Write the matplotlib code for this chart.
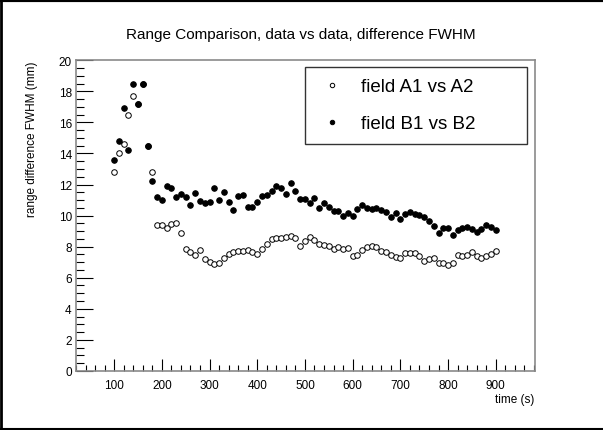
# -*- coding: utf-8 -*-
"""
Range comparison plot, data vs data, difference FWHM.
"""

import numpy as np
import matplotlib
matplotlib.use('Agg')
import matplotlib.pyplot as plt
from matplotlib.ticker import MultipleLocator
from matplotlib.lines import Line2D

# =============================================================================
# Data
# =============================================================================
time_s = list(range(100, 901, 10))

# field A1 vs A2 (open circles)
diff_a = [12.8, 14.05, 14.6, 16.5, 17.7, 17.2, 18.5, 14.5, 12.8, 9.38,
          9.4, 9.2, 9.45, 9.55, 8.85, 7.83, 7.67, 7.46, 7.76, 7.22,
          7.04, 6.88, 6.95, 7.25, 7.5, 7.66, 7.7, 7.7, 7.79, 7.67,
          7.52, 7.85, 8.17, 8.49, 8.55, 8.55, 8.6, 8.7, 8.55, 8.02,
          8.38, 8.64, 8.45, 8.17, 8.1, 8.02, 7.85, 7.95, 7.85, 7.89,
          7.42, 7.48, 7.8, 7.95, 8.02, 7.95, 7.74, 7.63, 7.48, 7.35,
          7.27, 7.59, 7.59, 7.59, 7.42, 7.05, 7.2, 7.27, 6.95, 6.95,
          6.82, 6.93, 7.45, 7.42, 7.46, 7.63, 7.42, 7.27, 7.42, 7.52,
          7.74]

# field B1 vs B2 (filled circles)
diff_b = [13.6, 14.8, 16.9, 14.2, 18.5, 17.2, 18.5, 14.5, 12.2, 11.2,
          11.0, 11.9, 11.77, 11.2, 11.38, 11.2, 10.7, 11.47, 10.95, 10.82,
          10.88, 11.75, 11.0, 11.53, 10.88, 10.36, 11.27, 11.3, 10.58, 10.52,
          10.85, 11.27, 11.32, 11.6, 11.88, 11.8, 11.38, 12.07, 11.55, 11.06,
          11.06, 10.8, 11.1, 10.46, 10.78, 10.57, 10.31, 10.31, 9.99, 10.14,
          9.95, 10.42, 10.68, 10.46, 10.42, 10.46, 10.37, 10.2, 9.88, 10.14,
          9.77, 10.1, 10.25, 10.1, 10.03, 9.88, 9.67, 9.35, 8.87, 9.2,
          9.2, 8.78, 9.1, 9.22, 9.24, 9.13, 8.92, 9.13, 9.39, 9.24,
          9.07]

labels = ['field A1 vs A2', 'field B1 vs B2']
title = 'Range Comparison, data vs data, difference FWHM'

# =============================================================================
# Figure
# =============================================================================
plt.rcParams['font.family'] = ['Liberation Sans', 'DejaVu Sans']

fig = plt.figure(figsize=(6.03, 4.31), dpi=100)
ax = fig.add_axes([0.126, 0.137, 0.761, 0.721])

ax.plot(time_s, diff_a, ls='none', marker='o', ms=4.0, mfc='white',
        mec='black', mew=0.7, zorder=3)
ax.plot(time_s, diff_b, ls='none', marker='o', ms=4.0, mfc='black',
        mec='black', mew=0.7, zorder=4)

# Axes, ROOT style
ax.set_xlim(20, 982)
ax.set_ylim(0, 20)
ax.xaxis.set_major_locator(MultipleLocator(100))
ax.xaxis.set_minor_locator(MultipleLocator(20))
ax.yaxis.set_major_locator(MultipleLocator(2))
ax.yaxis.set_minor_locator(MultipleLocator(0.5))
ax.set_xticks([t for t in range(100, 1000, 100)])
ax.tick_params(axis='both', which='both', direction='in', top=False,
               right=False, labelsize=8.5, color='black', width=0.8)
ax.tick_params(axis='x', which='major', length=9, pad=6)
ax.tick_params(axis='x', which='minor', length=4.5)
ax.tick_params(axis='y', which='major', length=12, pad=3)
ax.tick_params(axis='y', which='minor', length=6)
for side in ['top', 'bottom', 'left', 'right']:
    ax.spines[side].set_color('#8a8a8a')
    ax.spines[side].set_linewidth(1.2)

ax.set_xlabel('time (s)', fontsize=8.5, loc='right', labelpad=1)
ax.set_ylabel('range difference FWHM (mm)', fontsize=8.5, loc='top',
              labelpad=15)

fig.text(0.499, 0.918, title, ha='center', va='center', fontsize=11)

# Legend
handles = [
    Line2D([], [], ls='none', marker='o', ms=3.2, mfc='white', mec='black',
           mew=0.7),
    Line2D([], [], ls='none', marker='o', ms=3.2, mfc='black', mec='black',
           mew=0.7),
]
leg = ax.legend(handles, labels, loc='upper left', mode='expand',
                bbox_to_anchor=(0.506, 0.65, 0.368, 0.192),
                bbox_transform=fig.transFigure, fontsize=13.5,
                frameon=True, fancybox=False, borderpad=0.6,
                labelspacing=1.05, handlelength=1.65, handletextpad=0.74,
                borderaxespad=0)
leg.get_frame().set_edgecolor('black')
leg.get_frame().set_linewidth(1.0)

# Canvas border
fig.add_artist(Line2D([0, 1], [0.998, 0.998], transform=fig.transFigure,
                      color='black', lw=3))
fig.add_artist(Line2D([0.002, 0.002], [0, 1], transform=fig.transFigure,
                      color='black', lw=2))
fig.add_artist(Line2D([0, 1], [0.003, 0.003], transform=fig.transFigure,
                      color='black', lw=1.5))

fig.savefig('out.png', dpi=100)
